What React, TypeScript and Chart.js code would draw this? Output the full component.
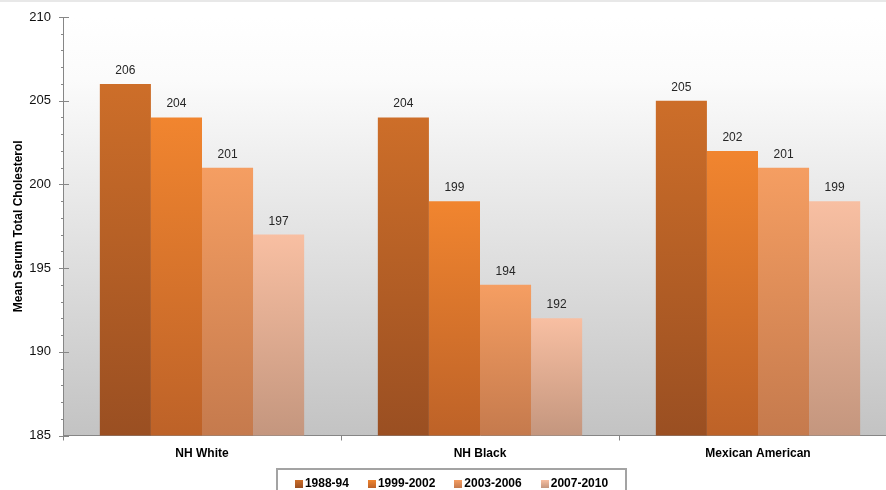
import { useEffect, useRef } from "react";
import { Chart, registerables } from "chart.js";

Chart.register(...registerables);

const categories = ["NH White", "NH Black", "Mexican American"];
const seriesLabels = ["1988-94", "1999-2002", "2003-2006", "2007-2010"];
const values1988 = [206, 204, 205];
const values1999 = [204, 199, 202];
const values2003 = [201, 194, 201];
const values2007 = [197, 192, 199];
const yMin = 185;
const yMax = 210;
const yMajorStep = 5;
const yTitle = "Mean Serum Total Cholesterol";

const topColors = ["#cd6e29", "#f1852f", "#f59e62", "#f8bfa2"];
const bottomColors = ["#9a4f22", "#bd6228", "#c57a4d", "#c4967e"];

const FONT = '"Liberation Sans", Arial, sans-serif';

function barFill(i: number) {
  return (ctx: any) => {
    const chart = ctx.chart;
    const area = chart.chartArea;
    if (!area || ctx.type !== "data" || !chart.scales.y) return topColors[i];
    const y = chart.scales.y.getPixelForValue(ctx.raw);
    const g = chart.ctx.createLinearGradient(0, y, 0, area.bottom);
    g.addColorStop(0, topColors[i]);
    g.addColorStop(1, bottomColors[i]);
    return g;
  };
}

const backgroundPlugin = {
  id: "bgPlot",
  beforeDraw(chart: any) {
    const { ctx, chartArea, width } = chart;
    ctx.save();
    ctx.fillStyle = "#e8e8e8";
    ctx.fillRect(0, 0, width, 2);
    const g = ctx.createLinearGradient(0, chartArea.top, 0, chartArea.bottom);
    g.addColorStop(0, "#ffffff");
    g.addColorStop(0.15, "#fbfbfb");
    g.addColorStop(1, "#c3c3c3");
    ctx.fillStyle = g;
    ctx.fillRect(chartArea.left, chartArea.top, chartArea.right - chartArea.left, chartArea.bottom - chartArea.top);
    ctx.restore();
  },
};

const yTicksPlugin = {
  id: "yTickMarks",
  afterDraw(chart: any) {
    const { ctx } = chart;
    const ys = chart.scales.y;
    const x = ys.right;
    ctx.save();
    ctx.strokeStyle = "#868686";
    ctx.lineWidth = 1;
    ys.ticks.forEach((t: any) => {
      const py = Math.round(ys.getPixelForValue(t.value)) + 0.5;
      const major = t.value % yMajorStep === 0;
      ctx.beginPath();
      ctx.moveTo(major ? x - 4 : x - 2, py);
      ctx.lineTo(major ? x + 6 : x, py);
      ctx.stroke();
    });
    ctx.restore();
  },
};

const dataLabelPlugin = {
  id: "valueLabels",
  afterDatasetsDraw(chart: any) {
    const { ctx } = chart;
    ctx.save();
    ctx.font = `12px ${FONT}`;
    ctx.fillStyle = "#262626";
    ctx.textAlign = "center";
    ctx.textBaseline = "alphabetic";
    chart.data.datasets.forEach((ds: any, di: number) => {
      const meta = chart.getDatasetMeta(di);
      meta.data.forEach((el: any, i: number) => {
        ctx.fillText(String(ds.data[i]), el.x, el.y - 10);
      });
    });
    ctx.restore();
  },
};

const legendPlugin = {
  id: "boxLegend",
  afterDraw(chart: any) {
    const { ctx } = chart;
    ctx.save();
    ctx.font = `bold 12px ${FONT}`;
    const sw = 8;
    const gap = 2;
    const spacing = 19;
    const items = chart.data.datasets.map((d: any) => ({ label: d.label, w: ctx.measureText(d.label).width }));
    const total = items.reduce((a: number, it: any) => a + sw + gap + it.w, 0) + spacing * (items.length - 1);
    const boxL = 277;
    const boxR = 626;
    const top = 469;
    ctx.strokeStyle = "#a3a3a3";
    ctx.lineWidth = 2;
    ctx.strokeRect(boxL, top, boxR - boxL, 40);
    let x = (boxL + boxR) / 2 - total / 2;
    const cy = 484;
    items.forEach((it: any, i: number) => {
      const g = ctx.createLinearGradient(0, cy - 4, 0, cy + 4);
      g.addColorStop(0, topColors[i]);
      g.addColorStop(1, bottomColors[i]);
      ctx.fillStyle = g;
      ctx.fillRect(Math.round(x), cy - 4, sw, sw);
      x += sw + gap;
      ctx.fillStyle = "#000";
      ctx.textAlign = "left";
      ctx.textBaseline = "middle";
      ctx.fillText(it.label, x, cy);
      x += it.w + spacing;
    });
    ctx.restore();
  },
};

export default function App() {
  const ref = useRef<HTMLCanvasElement | null>(null);

  useEffect(() => {
    if (!ref.current) return;
    const seriesValues = [values1988, values1999, values2003, values2007];
    const chart = new Chart(ref.current, {
      type: "bar",
      data: {
        labels: categories,
        datasets: seriesLabels.map((label, i) => ({
          label,
          data: seriesValues[i],
          backgroundColor: barFill(i),
          borderWidth: 0,
          categoryPercentage: 0.735,
          barPercentage: 1.0,
        })),
      },
      options: {
        responsive: false,
        animation: false,
        devicePixelRatio: 1,
        layout: { padding: { top: 17, left: 0, right: 0, bottom: 0 } },
        plugins: {
          legend: { display: false },
          tooltip: { enabled: false },
          title: { display: false },
        },
        scales: {
          x: {
            offset: true,
            grid: {
              display: true,
              offset: true,
              drawOnChartArea: false,
              drawTicks: true,
              tickLength: 5,
              color: "#868686",
            },
            border: { display: true, color: "#868686", width: 1 },
            ticks: {
              color: "#000",
              font: { family: FONT, size: 12, weight: "bold" },
              padding: 6,
            },
            afterFit: (s: any) => {
              s.height = 54.5;
              s.paddingTop = 0;
              s.paddingBottom = 0;
            },
          },
          y: {
            min: yMin,
            max: yMax,
            grid: { display: true, drawOnChartArea: false, drawTicks: false },
            border: { display: true, color: "#868686", width: 1 },
            ticks: {
              stepSize: 1,
              autoSkip: false,
              color: "#111",
              font: { family: FONT, size: 13 },
              padding: 12,
              callback: (v: any) => (Number(v) % yMajorStep === 0 ? String(v) : ""),
            },
            title: {
              display: true,
              text: yTitle,
              color: "#000",
              font: { family: FONT, size: 12, weight: "bold" },
              padding: { top: 11, bottom: 0 },
            },
            afterFit: (s: any) => {
              s.width = 63;
              s.paddingTop = 0;
              s.paddingBottom = 0;
            },
          },
        },
      },
      plugins: [backgroundPlugin, yTicksPlugin, dataLabelPlugin, legendPlugin],
    });
    return () => chart.destroy();
  }, []);

  return (
    <div
      style={{
        position: "fixed",
        left: 0,
        top: 0,
        width: 886,
        height: 490,
        overflow: "hidden",
        background: "#fff",
      }}
    >
      <canvas ref={ref} width={897} height={490} style={{ display: "block", width: 897, height: 490 }} />
    </div>
  );
}
